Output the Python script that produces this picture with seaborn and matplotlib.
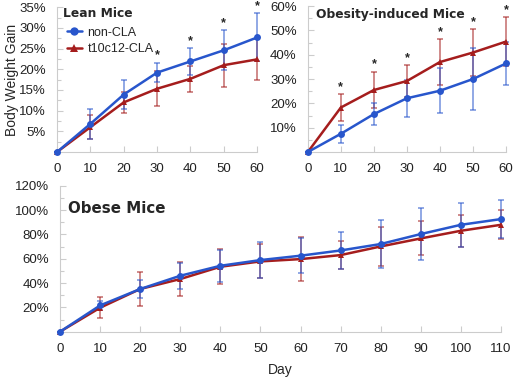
import numpy as np
import pandas as pd
import matplotlib
matplotlib.use("Agg")
import matplotlib.pyplot as plt
import seaborn as sns

# ---- data (percent body weight gain, mean and error) ----
lean_days = [0, 10, 20, 30, 40, 50, 60]
lean_non = [0, 6.8, 13.9, 19.2, 21.9, 24.6, 27.7]
lean_non_err = [0, 3.6, 3.4, 2.3, 3.2, 4.8, 5.8]
lean_cla = [0, 6.0, 12.0, 15.3, 17.7, 21.0, 22.4]
lean_cla_err = [0, 2.9, 2.6, 4.2, 3.2, 5.2, 4.9]
lean_stars = [30, 40, 50, 60]

oi_days = [0, 10, 20, 30, 40, 50, 60]
oi_non = [0, 7.5, 15.6, 22.1, 25.2, 30.0, 36.4]
oi_non_err = [0, 3.6, 4.5, 7.6, 9.2, 12.7, 8.9]
oi_cla = [0, 18.3, 25.5, 29.2, 37.0, 40.9, 45.4]
oi_cla_err = [0, 5.5, 7.6, 6.4, 9.4, 9.6, 10.0]
oi_stars = [10, 20, 30, 40, 50, 60]

ob_days = [0, 10, 20, 30, 40, 50, 60, 70, 80, 90, 100, 110]
ob_non = [0, 21.6, 35.1, 46.0, 54.2, 58.9, 62.5, 66.8, 72.1, 80.3, 87.9, 92.6]
ob_non_err = [0, 3.5, 7.4, 10.7, 13.3, 14.8, 14.4, 14.9, 19.7, 21.2, 18.0, 15.8]
ob_cla = [0, 19.7, 35.1, 43.3, 53.4, 57.8, 59.7, 63.0, 70.1, 76.7, 83.0, 87.9]
ob_cla_err = [0, 8.5, 14.0, 14.3, 14.5, 14.0, 18.0, 11.8, 16.0, 14.0, 13.0, 12.0]

groups = ["non-CLA", "t10c12-CLA"]
BLUE = "#2856cc"
RED = "#a51d1d"
palette = {"non-CLA": BLUE, "t10c12-CLA": RED}
markers = {"non-CLA": "o", "t10c12-CLA": "^"}

sns.set_theme(style="white")
plt.rcParams["font.family"] = ["Liberation Sans", "DejaVu Sans"]

fig = plt.figure(figsize=(5.2, 3.81), dpi=100)
ax1 = fig.add_axes([0.1096, 0.601, 0.385, 0.380])
ax2 = fig.add_axes([0.592, 0.601, 0.381, 0.383])
ax3 = fig.add_axes([0.1154, 0.1294, 0.848, 0.383])


def panel(ax, days, non, non_err, cla, cla_err, ymax, ystep, title, tx, ty, tsize,
          stars=None, legend=False):
    df = pd.DataFrame({
        "Day": days * 2,
        "Gain": non + cla,
        "Group": [groups[0]] * len(days) + [groups[1]] * len(days),
    })
    # error bars first (red under blue)
    for vals, errs, g in [(cla, cla_err, groups[1]), (non, non_err, groups[0])]:
        ax.errorbar(days, vals, yerr=errs, fmt="none", ecolor=palette[g], alpha=0.6,
                    elinewidth=1.2, capsize=2, capthick=1.2, clip_on=False, zorder=2)
    sns.lineplot(data=df, x="Day", y="Gain", hue="Group", style="Group",
                 hue_order=groups[::-1], palette=palette, markers=markers, dashes=False,
                 markersize=5, markeredgewidth=0, linewidth=1.8, ax=ax, legend=False,
                 clip_on=False, zorder=3)
    ax.set_xlim(days[0], days[-1])
    ax.set_ylim(0, ymax)
    ax.set_xticks(days)
    yt = np.arange(ystep, ymax + 0.01, ystep)
    ax.set_yticks(yt)
    ax.set_yticklabels([f"{int(v)}%" for v in yt])
    ax.set_yticks(np.arange(0, ymax + 0.01, ystep / 2), minor=True)
    ax.set_xlabel("")
    ax.set_ylabel("")
    for s in ["top", "right"]:
        ax.spines[s].set_visible(False)
    for s in ["left", "bottom"]:
        ax.spines[s].set_color("#cccccc")
        ax.spines[s].set_linewidth(0.8)
    ax.tick_params(axis="both", labelsize=9.5, colors="#cccccc", labelcolor="#222222",
                   direction="in", length=4, width=0.8, pad=8)
    ax.tick_params(axis="y", which="minor", direction="in", length=3, width=0.8, colors="#cccccc", left=True)
    ax.tick_params(axis="x", bottom=True, direction="in", length=4)
    ax.tick_params(axis="y", left=True)
    ax.text(tx, ty, title, transform=ax.transAxes, fontsize=tsize, fontweight="bold",
            family="DejaVu Sans", ha="left", va="center")
    if stars:
        for d in stars:
            i = days.index(d)
            top = max(non[i] + non_err[i], cla[i] + cla_err[i])
            ax.text(d, top + ymax * 0.01, "*", ha="center", va="bottom", fontsize=9,
                    fontweight="bold", clip_on=False)
    if legend:
        handles = [plt.Line2D([], [], color=palette[g], marker=markers[g], markersize=6,
                              markeredgewidth=0, linewidth=1.8) for g in groups]
        ax.legend(handles, groups, loc="upper left", bbox_to_anchor=(0.025, 0.90),
                  frameon=False, fontsize=9, handlelength=1.2, handletextpad=0.45,
                  labelspacing=0.35, borderaxespad=0)


panel(ax1, lean_days, lean_non, lean_non_err, lean_cla, lean_cla_err, 35, 5,
      "Lean Mice", 0.03, 0.955, 8.8, stars=lean_stars, legend=True)
panel(ax2, oi_days, oi_non, oi_non_err, oi_cla, oi_cla_err, 60, 10,
      "Obesity-induced Mice", 0.04, 0.945, 8.8, stars=oi_stars)
panel(ax3, ob_days, ob_non, ob_non_err, ob_cla, ob_cla_err, 120, 20,
      "Obese Mice", 0.017, 0.847, 10.8)
ax3.set_yticks(np.arange(0, 121, 10), minor=True)

fig.text(0.023, 0.79, "Body Weight Gain", rotation=90, ha="center", va="center", fontsize=10)
ax3.set_xlabel("Day", fontsize=10, labelpad=6)

fig.savefig("out.png", dpi=100)
